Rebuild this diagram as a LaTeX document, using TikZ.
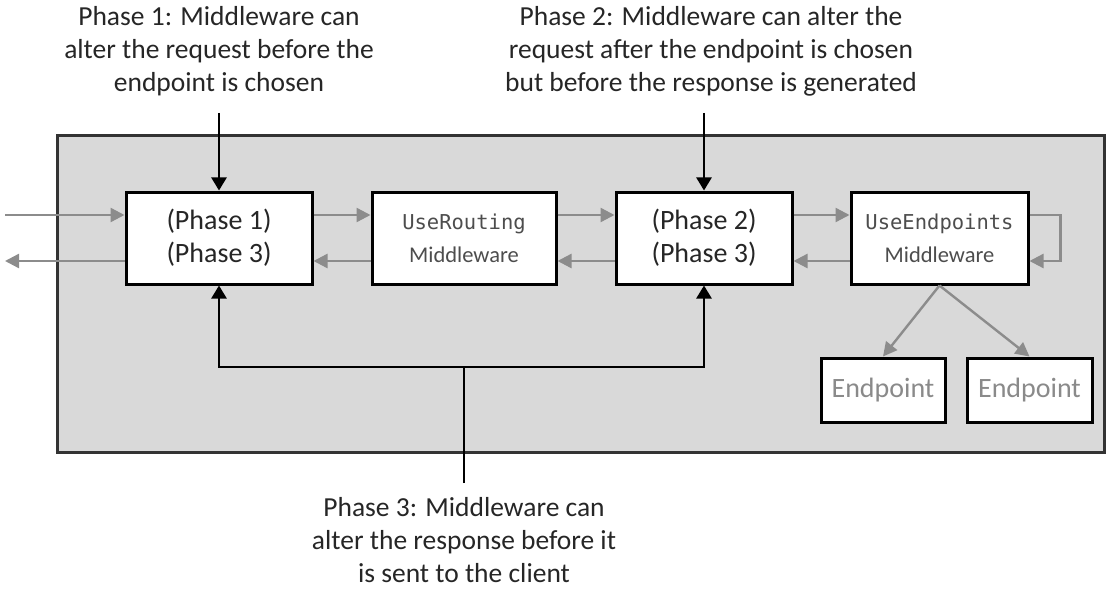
\documentclass[tikz,border=0pt]{standalone}
\usepackage{fontspec}
\setmainfont{Carlito}
\newfontfamily\codefont{DejaVu Sans Mono}
\usetikzlibrary{arrows.meta}
\definecolor{panel}{HTML}{D9D9D9}
\definecolor{flow}{HTML}{8C8C8C}
\definecolor{boxtext}{HTML}{262626}
\definecolor{softtext}{HTML}{4D4D4D}
\definecolor{eptext}{HTML}{8A8A8A}
\tikzset{
  stage/.style={draw=black,line width=3pt,fill=white,minimum height=92pt,inner sep=0pt,
    align=center,font=\fontsize{28}{33}\selectfont,text=boxtext},
  mw/.style={stage,font=\fontsize{22.5}{33}\selectfont,text=softtext},
  endpt/.style={draw=black,line width=3pt,fill=white,minimum width=124pt,minimum height=64pt,
    inner sep=0pt,font=\fontsize{28}{33}\selectfont,text=eptext},
  note/.style={align=center,font=\fontsize{27.5}{33}\selectfont,text=boxtext},
  req/.style={draw=flow,line width=2.4pt,-{Triangle[length=14pt,width=14pt]}},
  hook/.style={draw=black,line width=2.4pt,-{Triangle[length=13pt,width=15pt]}}
}
\newcommand{\code}[1]{{\codefont\fontsize{20.5}{33}\selectfont #1}}
\begin{document}
\begin{tikzpicture}[x=1pt,y=-1pt]
\useasboundingbox (0,0) rectangle (1106,591);
\filldraw[fill=panel,draw=black!80,line width=3pt] (57,136) rectangle (1104,452);

\node[stage,minimum width=186pt] (p1) at (219,238) {(Phase 1)\\(Phase 3)};
\node[mw,minimum width=184pt] (route) at (464,238) {\code{UseRouting}\\Middleware};
\node[stage,minimum width=176pt] (p2) at (704,238) {(Phase 2)\\(Phase 3)};
\node[mw,minimum width=177pt] (ends) at (939.5,238) {\code{UseEndpoints}\\Middleware};
\node[endpt] (ep1) at (883,390) {Endpoint};
\node[endpt,minimum width=125pt] (ep2) at (1029.5,390) {Endpoint};

\node[note] (t1) at (219,51) {Phase 1: Middleware can\\alter the request before the\\endpoint is chosen};
\node[note] (t2) at (711,51) {Phase 2: Middleware can alter the\\request after the endpoint is chosen\\but before the response is generated};
\node[note] (t3) at (464,540) {Phase 3: Middleware can\\alter the response before it\\is sent to the client};

% request goes right, response comes back
\coordinate (in) at (5,215);
\coordinate (out) at (5,261);
\draw[req] (in) -- (in -| p1.west);
\draw[req] (out -| p1.west) -- (out);
\draw[req] ([yshift=23pt]p1.east) -- ([yshift=23pt]route.west);
\draw[req] ([yshift=23pt]route.east) -- ([yshift=23pt]p2.west);
\draw[req] ([yshift=23pt]p2.east) -- ([yshift=23pt]ends.west);
\draw[req] ([yshift=-23pt]ends.west) -- ([yshift=-23pt]p2.east);
\draw[req] ([yshift=-23pt]p2.west) -- ([yshift=-23pt]route.east);
\draw[req] ([yshift=-23pt]route.west) -- ([yshift=-23pt]p1.east);
\draw[req] ([yshift=23pt]ends.east) -- ++(31,0) |- ([yshift=-23pt]ends.east);
\draw[req] (ends.south) -- (ep1.north);
\draw[req] (ends.south) -- (ep2.north);

% phase notes
\draw[hook] (p1.north |- 0,113) -- (p1.north);
\draw[hook] (p2.north |- 0,113) -- (p2.north);
\coordinate (join) at (464,367);
\draw[line width=2.4pt] (t3.north |- 0,483) -- (join);
\draw[hook] (join) -| (p1.south);
\draw[hook] (join) -| (p2.south);
\end{tikzpicture}
\end{document}
